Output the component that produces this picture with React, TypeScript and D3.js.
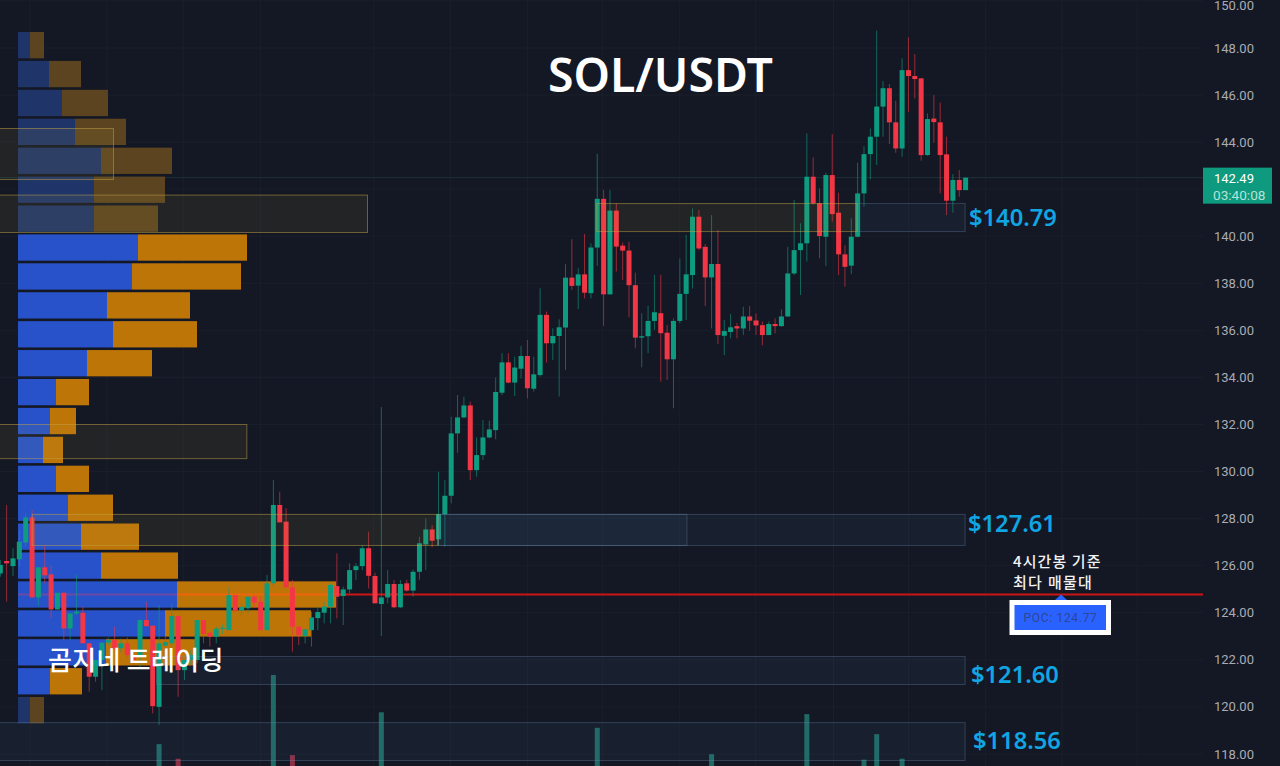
import React, { useRef, useEffect } from 'react';
import { select, scaleLinear, scaleBand, range } from 'd3';

// 4h candles, oldest first
const opens = [125.67,126.2,125.98,126.27,126.98,128.05,124.65,125.93,125.63,124.14,124.85,123.33,123.97,124.0,122.7,121.28,121.99,122.73,122.84,122.49,122.7,122.2,122.13,123.69,123.45,120.0,122.6,122.7,123.86,121.56,122.0,121.99,123.69,123.15,122.98,123.32,123.26,124.75,124.09,124.19,124.68,124.47,123.26,125.25,128.58,127.87,125.08,123.41,123.01,123.26,123.77,124.0,124.26,125.13,124.71,124.99,125.81,125.98,126.74,125.56,124.37,124.65,125.22,124.23,125.25,124.94,125.74,126.9,127.54,127.12,128.19,128.97,131.62,132.3,132.81,130.06,130.7,131.45,131.76,133.35,134.64,133.78,134.37,134.91,133.52,134.1,136.66,135.45,135.76,136.12,138.24,137.9,138.38,137.58,139.52,141.59,137.53,141.09,139.6,139.39,137.92,135.69,135.75,136.4,136.73,135.9,134.77,136.4,137.55,138.35,140.83,139.55,138.25,138.82,135.77,135.93,136.18,136.08,136.59,136.42,136.22,135.8,136.27,136.18,136.59,138.42,139.41,139.7,142.53,141.4,139.98,142.6,141.0,139.23,138.75,139.98,141.82,143.49,144.23,145.51,146.29,144.84,143.73,147.06,146.81,146.71,143.45,145.0,144.84,143.48,141.51,142.39,141.96];
const highs = [126.24,128.58,126.74,127.51,128.22,128.36,125.93,126.88,126.03,124.85,124.85,124.0,125.6,124.26,122.7,121.99,122.73,122.95,123.41,122.9,122.95,122.4,123.69,124.47,123.45,124.33,123.0,124.4,123.86,121.99,122.4,123.69,123.69,123.15,123.41,123.5,125.11,124.75,124.4,124.68,124.75,124.68,125.6,129.64,129.14,128.44,125.39,123.41,123.33,124.04,124.26,124.47,125.25,126.52,125.11,126.1,126.1,126.88,127.44,125.7,132.74,125.81,125.39,125.39,125.4,125.84,127.23,128.01,127.73,129.99,129.64,132.33,133.25,133.18,132.97,131.45,132.19,132.16,134.0,135.03,135.03,134.88,135.34,135.59,134.88,137.79,136.8,136.09,136.47,138.81,139.87,138.64,140.1,139.7,143.5,141.97,141.97,141.4,139.73,139.77,138.45,136.73,137.04,138.36,138.36,136.23,136.51,139.06,140.06,141.18,141.11,139.67,140.9,140.26,136.44,136.69,136.32,137.0,137.03,136.72,136.37,136.37,136.51,136.89,139.55,141.54,140.55,144.37,143.35,142.03,142.7,144.34,141.85,139.62,140.76,143.13,143.83,144.58,148.74,146.6,146.47,145.76,147.56,148.45,147.74,146.71,145.22,146.0,145.68,144.23,142.64,142.81,142.49];
const lows = [125.53,124.47,125.56,125.96,126.81,124.65,124.28,125.25,123.76,124.11,122.84,122.84,123.9,122.7,120.64,121.07,120.71,122.6,122.41,122.3,122.1,121.8,121.7,123.4,119.72,119.23,122.4,122.56,120.43,121.14,121.8,121.85,122.7,122.56,122.7,123.1,123.26,124.04,123.83,123.97,124.2,123.26,123.26,125.1,127.84,125.08,122.34,122.63,122.7,122.56,123.26,123.55,123.55,123.76,123.48,124.82,125.39,125.81,125.03,124.4,123.01,124.4,124.2,124.2,124.9,124.68,125.4,125.81,126.78,126.88,126.81,128.65,130.8,132.26,129.64,129.78,130.49,131.41,131.37,133.25,133.75,133.21,133.96,133.11,133.4,134.03,134.63,134.74,133.19,134.32,137.72,136.91,137.36,137.36,138.74,136.19,137.53,138.5,138.14,136.56,135.24,134.43,135.03,136.02,133.82,133.89,132.69,136.3,136.44,137.78,139.41,137.03,136.08,135.42,134.95,135.66,135.66,135.8,135.98,135.8,135.37,135.8,135.87,136.15,136.58,138.35,137.5,138.92,141.33,139.06,138.73,140.62,138.35,137.85,138.39,139.95,141.26,142.42,143.03,144.23,143.92,143.55,143.38,145.29,145.86,143.21,143.42,143.98,141.82,140.9,141.0,141.68,141.96];
const closes = [126.03,126.1,126.31,127.02,128.05,124.65,125.93,125.59,124.14,124.85,123.33,123.97,124.05,122.7,121.28,121.99,122.73,122.84,122.49,122.7,122.2,122.0,123.69,123.43,120.03,122.7,122.75,123.86,121.56,121.99,122.2,123.69,123.09,122.98,123.32,123.36,124.75,124.09,124.25,124.68,124.43,123.26,125.25,128.58,127.84,125.08,123.41,123.05,123.29,123.8,124.03,124.26,125.18,124.68,124.99,125.81,125.98,126.74,125.57,124.4,124.65,125.22,124.23,125.22,124.94,125.74,126.95,127.54,127.06,128.19,128.97,131.62,132.3,132.81,130.06,130.7,131.45,131.79,133.38,134.64,133.78,134.42,134.91,133.54,134.13,136.66,135.45,135.76,136.13,138.24,137.89,138.38,137.6,139.52,141.59,137.53,141.09,139.56,139.39,137.92,135.69,135.75,136.4,136.77,135.88,134.77,136.4,137.55,138.38,140.83,139.48,138.25,138.82,135.8,135.97,136.13,136.08,136.59,136.41,136.21,135.8,136.27,136.18,136.59,138.42,139.41,139.7,142.53,141.4,140.01,142.6,140.94,139.23,138.7,139.98,141.82,143.49,144.23,145.51,146.29,144.84,143.73,147.06,146.81,146.68,143.45,144.98,144.85,143.45,141.51,142.39,141.96,142.49];

// volume histogram, only the bars that reach into the picture
const volumeBars = [25,28,43,46,60,94,112,127,136,138,142];
const volumeValues = [24,8,100,12,59,42,13,57,7,35,8];

// volume profile, top row first
const profileBuy = [12,31,44,57,83,76,76,120,114,89,95,69,38,32,25,38,50,63,83,159,147,88,32,12];
const profileSell = [14,32,46,51,71,71,64,109,109,83,84,65,33,26,20,33,45,58,77,159,146,89,32,14];
const valueAreaFirst = 7;
const valueAreaLast = 22;

const priceTicks = [118,120,122,124,126,128,130,132,134,136,138,140,142,144,146,148,150];
const timeGrid = [4.7,16.8,28.8,41,58.8,70.9,83,94.8,107,118.9,131.2,143,155.1,167.2,179];

// order blocks: first bar, last bar, top price, bottom price
const goldZones: [number, number, number, number][] = [
  [-2, 17.9, 144.6, 142.43],
  [-2, 57.9, 141.77, 140.18],
  [-2, 38.9, 132.02, 130.57],
  [5.1, 69, 128.2, 126.88],
  [94, 135, 141.41, 140.22],
];
const blueZones: [number, number, number, number][] = [
  [135, 152, 141.41, 140.22],
  [69, 152, 128.2, 126.88],
  [69, 108.2, 128.2, 126.88],
  [24.7, 152, 122.16, 120.97],
  [-2, 152, 119.35, 117.74],
];
const levelLabels = ['$140.79', '$127.61', '$121.60', '$118.56'];
const levelPrices = [140.8, 127.78, 121.38, 118.58];
const levelOffsets = [969, 968, 971, 973];

const lastPrice = 142.49;
const pocPrice = 124.77;

const UP = '#0d9c80';
const DOWN = '#f23645';
const BG = '#141824';
const FONT = '"Noto Sans", sans-serif';
const KR = '"Noto Sans CJK KR", sans-serif';

const App: React.FC = () => {
  const svgRef = useRef<SVGSVGElement | null>(null);

  useEffect(() => {
    if (!svgRef.current) return;
    const svg = select(svgRef.current);
    svg.selectAll('*').remove();

    const width = 1280;
    const height = 766;
    const chartRight = 1203;

    const y = scaleLinear().domain([118, 148]).range([753.9, 48]);
    const x = scaleLinear().domain([0, 152]).range([0.3, 965.6]);
    const volY = scaleLinear().domain([0, 100]).range([766, 675]);
    const profileX = scaleLinear().domain([0, 318]).range([18, 336]);
    const rowBand = scaleBand<number>()
      .domain(range(profileBuy.length))
      .range([y(148.68), y(119.3)])
      .paddingInner(0.09);

    svg.append('rect').attr('width', width).attr('height', height).attr('fill', BG);

    // grid
    svg.append('g').selectAll('line').data(priceTicks).enter().append('line')
      .attr('x1', 0).attr('x2', chartRight)
      .attr('y1', d => y(d)).attr('y2', d => y(d))
      .attr('stroke', '#1a1f2c');
    svg.append('g').selectAll('line').data(timeGrid).enter().append('line')
      .attr('x1', d => x(d)).attr('x2', d => x(d))
      .attr('y1', 0).attr('y2', height)
      .attr('stroke', '#1a1f2c');

    // last price line
    svg.append('line')
      .attr('x1', 0).attr('x2', chartRight)
      .attr('y1', y(lastPrice)).attr('y2', y(lastPrice))
      .attr('stroke', '#1c3238');

    // volume bars
    svg.append('g').selectAll('rect').data(volumeBars).enter().append('rect')
      .attr('x', d => x(d) - 2.5)
      .attr('width', 5)
      .attr('y', (_, i) => volY(volumeValues[i]))
      .attr('height', (_, i) => height - volY(volumeValues[i]))
      .attr('fill', d => (closes[d] >= opens[d] ? '#1f6a64' : '#8a2f44'));

    // volume profile
    const rows = range(profileBuy.length);
    const inValueArea = (r: number) => r >= valueAreaFirst && r <= valueAreaLast;
    const profile = svg.append('g');
    profile.selectAll('rect.buy').data(rows).enter().append('rect')
      .attr('class', 'buy')
      .attr('x', profileX(0))
      .attr('y', r => rowBand(r) as number)
      .attr('width', r => profileX(profileBuy[r]) - profileX(0))
      .attr('height', rowBand.bandwidth())
      .attr('fill', r => (inValueArea(r) ? '#2752c9' : '#1f3569'));
    profile.selectAll('rect.sell').data(rows).enter().append('rect')
      .attr('class', 'sell')
      .attr('x', r => profileX(profileBuy[r]))
      .attr('y', r => rowBand(r) as number)
      .attr('width', r => profileX(profileBuy[r] + profileSell[r]) - profileX(profileBuy[r]))
      .attr('height', rowBand.bandwidth())
      .attr('fill', r => (inValueArea(r) ? '#bd7508' : '#5c4420'));

    // point of control line, tinted where it crosses the profile
    const pocRow = profileBuy.indexOf(Math.max(...profileBuy));
    const pocSplit = profileX(profileBuy[pocRow]);
    const pocEnd = profileX(profileBuy[pocRow] + profileSell[pocRow]);
    const pocSegments: [number, number, string][] = [
      [profileX(0), pocSplit, '#6b4aa6'],
      [pocSplit, pocEnd, '#f0640a'],
      [pocEnd, chartRight, '#cc1414'],
    ];
    svg.append('g').selectAll('line').data(pocSegments).enter().append('line')
      .attr('x1', d => d[0]).attr('x2', d => d[1])
      .attr('y1', y(pocPrice)).attr('y2', y(pocPrice))
      .attr('stroke', d => d[2]).attr('stroke-width', 2);

    // candles
    const candles = svg.append('g').selectAll('g').data(range(opens.length)).enter().append('g')
      .attr('fill', i => (closes[i] >= opens[i] ? UP : DOWN))
      .attr('stroke', i => (closes[i] >= opens[i] ? UP : DOWN));
    candles.append('line')
      .attr('x1', i => x(i)).attr('x2', i => x(i))
      .attr('y1', i => y(highs[i])).attr('y2', i => y(lows[i]))
      .attr('stroke-opacity', 0.6);
    candles.append('rect')
      .attr('x', i => x(i) - 2.5)
      .attr('width', 5)
      .attr('y', i => y(Math.max(opens[i], closes[i])))
      .attr('height', i => Math.max(1, Math.abs(y(opens[i]) - y(closes[i]))))
      .attr('stroke', 'none');

    // zones sit above the candles
    const drawZones = (zones: [number, number, number, number][], fill: string, stroke: string) => {
      svg.append('g').selectAll('rect').data(zones).enter().append('rect')
        .attr('x', d => x(d[0]) - 0.5)
        .attr('width', d => x(d[1]) - x(d[0]))
        .attr('y', d => y(d[2]) + 0.5)
        .attr('height', d => y(d[3]) - y(d[2]))
        .attr('fill', fill)
        .attr('stroke', stroke);
    };
    drawZones(blueZones, 'rgba(80,125,180,0.08)', 'rgba(120,150,190,0.3)');
    drawZones(goldZones, 'rgba(190,170,70,0.09)', 'rgba(195,165,70,0.5)');

    // price axis, the tag covers the tick next to the last price
    const axisTicks = priceTicks.filter(d => Math.abs(d - lastPrice) > 1);
    svg.append('g').selectAll('text').data(axisTicks).enter().append('text')
      .attr('x', 1214)
      .attr('y', d => Math.max(y(d) + 4.6, 10))
      .attr('font-family', 'Roboto, sans-serif')
      .attr('font-size', 13)
      .attr('fill', '#a9acb4')
      .text(d => d.toFixed(2));

    svg.append('rect')
      .attr('x', 1203).attr('y', y(lastPrice) - 10)
      .attr('width', 69).attr('height', 36)
      .attr('fill', '#0d9a7e');
    svg.append('text')
      .attr('x', 1214).attr('y', y(lastPrice) + 5)
      .attr('font-family', 'Roboto, sans-serif').attr('font-size', 13)
      .attr('fill', '#ffffff')
      .text(lastPrice.toFixed(2));
    svg.append('text')
      .attr('x', 1213).attr('y', y(lastPrice) + 22)
      .attr('font-family', 'Roboto, sans-serif').attr('font-size', 13.6)
      .attr('fill', '#b5e3d8')
      .text('03:40:08');

    // level labels
    svg.append('g').selectAll('text').data(levelLabels).enter().append('text')
      .attr('x', (_, i) => levelOffsets[i])
      .attr('y', (_, i) => y(levelPrices[i]) + 8.5)
      .attr('font-family', FONT)
      .attr('font-size', 23.7)
      .attr('font-weight', 600)
      .attr('fill', '#10a5e3')
      .text(d => d);

    // title and notes
    svg.append('text')
      .attr('x', 548).attr('y', 92)
      .attr('font-family', FONT).attr('font-size', 46.4).attr('font-weight', 600)
      .attr('fill', '#ffffff')
      .text('SOL/USDT');
    svg.append('text')
      .attr('x', 48).attr('y', 670)
      .attr('font-family', KR).attr('font-size', 26).attr('font-weight', 500)
      .attr('letter-spacing', 0.3)
      .attr('fill', '#ffffff')
      .text('곰지네 트레이딩');
    svg.append('text')
      .attr('x', 1013).attr('y', 567)
      .attr('font-family', KR).attr('font-size', 15).attr('font-weight', 500)
      .attr('letter-spacing', 1.1)
      .attr('fill', '#f2f2f2')
      .text('4시간봉 기준');
    svg.append('text')
      .attr('x', 1013).attr('y', 588)
      .attr('font-family', KR).attr('font-size', 15).attr('font-weight', 500)
      .attr('letter-spacing', 1.3)
      .attr('fill', '#f2f2f2')
      .text('최다 매물대');

    // POC callout
    svg.append('path')
      .attr('d', `M1055,600L1061,${y(pocPrice)}L1067,600Z`)
      .attr('fill', '#2962ff');
    svg.append('rect')
      .attr('x', 1012).attr('y', 602.5)
      .attr('width', 96.5).attr('height', 30)
      .attr('fill', '#2962ff')
      .attr('stroke', '#ffffff').attr('stroke-width', 5);
    svg.append('text')
      .attr('x', 1060.5).attr('y', 621.5)
      .attr('text-anchor', 'middle')
      .attr('font-family', 'Roboto, sans-serif').attr('font-size', 12)
      .attr('letter-spacing', 0.7)
      .attr('fill', '#2f4596')
      .text(`POC: ${pocPrice}`);
  }, []);

  return (
    <div style={{ position: 'fixed', left: 0, top: 0, width: 1280, height: 766, overflow: 'hidden' }}>
      <svg ref={svgRef} width={1280} height={766} style={{ display: 'block' }}></svg>
    </div>
  );
};

export default App;
